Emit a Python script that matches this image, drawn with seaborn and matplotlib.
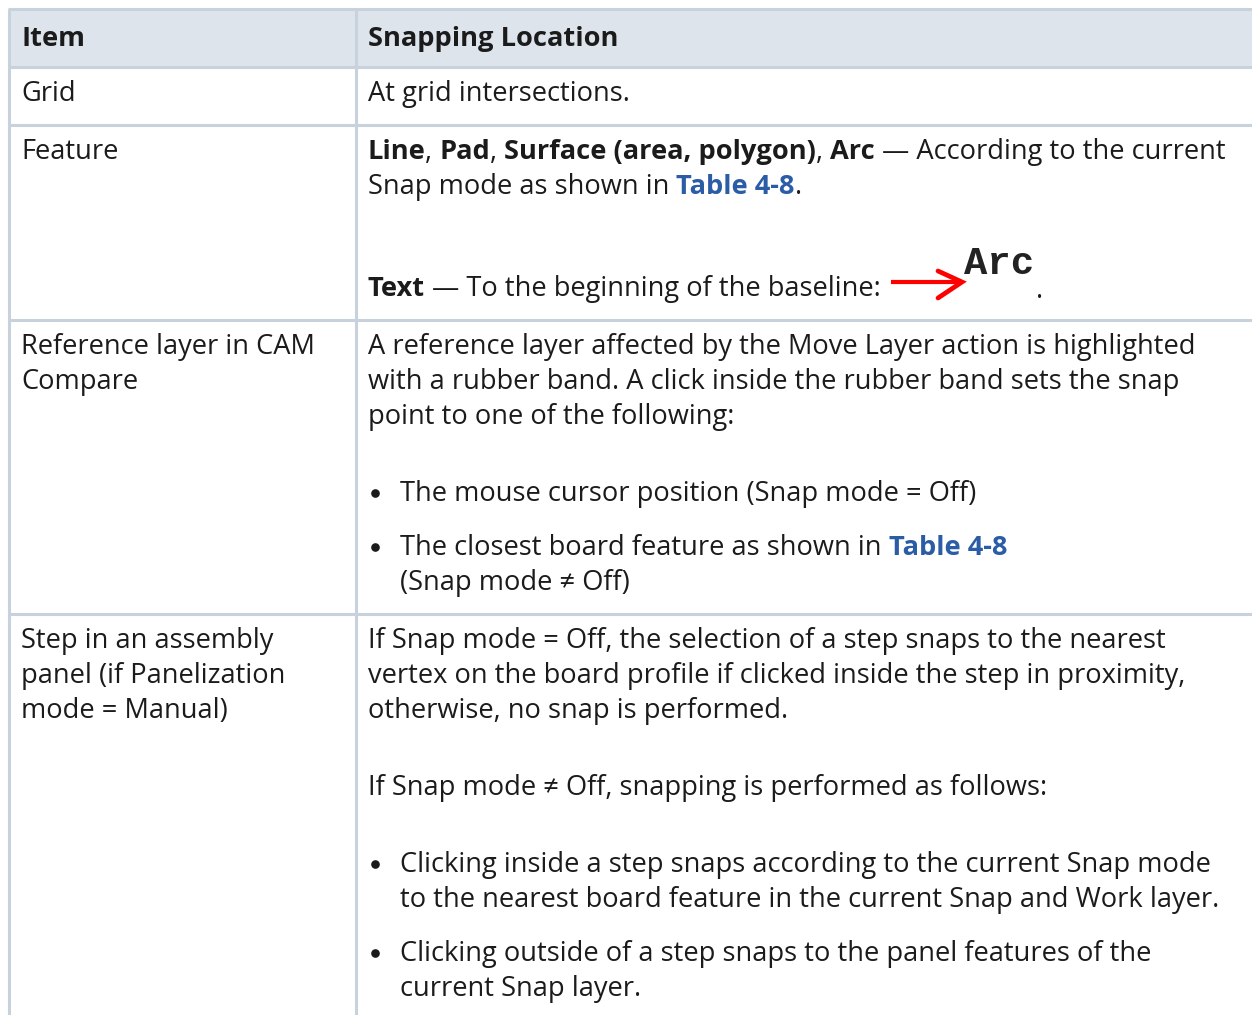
import re
import matplotlib
matplotlib.use("Agg")
import matplotlib.pyplot as plt
from matplotlib.patches import Rectangle
import seaborn as sns

# Table content
header_labels = ["Item", "Snapping Location"]

item_lines = [
    ["Grid"],
    ["Feature"],
    ["Reference layer in CAM", "Compare"],
    ["Step in an assembly", "panel (if Panelization", "mode = Manual)"],
]

# **bold**, [[link]]
location_blocks = [
    [("para", ["At grid intersections."])],
    [("para", ["**Line**, **Pad**, **Surface (area, polygon)**, **Arc** \u2014 According to the current",
               "Snap mode as shown in [[Table 4-8]]."]),
     ("arc", ["**Text** \u2014 To the beginning of the baseline:"])],
    [("para", ["A reference layer affected by the Move Layer action is highlighted",
               "with a rubber band. A click inside the rubber band sets the snap",
               "point to one of the following:"]),
     ("bullet", ["The mouse cursor position (Snap mode = Off)"]),
     ("bullet", ["The closest board feature as shown in [[Table 4-8]]",
                 "(Snap mode \u2260 Off)"])],
    [("para", ["If Snap mode = Off, the selection of a step snaps to the nearest",
               "vertex on the board profile if clicked inside the step in proximity,",
               "otherwise, no snap is performed."]),
     ("para", ["If Snap mode \u2260 Off, snapping is performed as follows:"]),
     ("bullet", ["Clicking inside a step snaps according to the current Snap mode",
                 "to the nearest board feature in the current Snap and Work layer."]),
     ("bullet", ["Clicking outside of a step snaps to the panel features of the",
                 "current Snap layer."])],
]
arc_label = "Arc"

# look
sns.set_theme(style="white")
FONT = ["Open Sans", "DejaVu Sans"]
plt.rcParams["font.family"] = FONT
FS = 19.6
TXT = "#1b1b1b"
LINK = "#2b5ca6"
BORDER = "#c8d2dc"
HEAD_BG = "#dee4ec"

W, H = 1252, 1015
X_LEFT, X_DIV = 9, 356
TOP, HEAD_BOTTOM = 9, 67
LINE, GAP_PARA, GAP_BULLET, GAP_ARC = 35, 77, 54, 102
FIRST, BOTTOM_PAD = 34, 24
PAD_X = 12

fig = plt.figure(figsize=(W / 100, H / 100), dpi=100)
ax = fig.add_axes([0, 0, 1, 1])
ax.set_xlim(0, W)
ax.set_ylim(H, 0)
ax.axis("off")
renderer = fig.canvas.get_renderer()

normal = dict(fontsize=FS, color=TXT, family=FONT)
bold = dict(normal, fontweight="bold")
link = dict(bold, color=LINK)


def text_width(s, kw):
    t = ax.text(0, 0, s, **kw)
    w = t.get_window_extent(renderer).width
    t.remove()
    return w


def advance(s, kw):
    return text_width("x" + s + "x", kw) - text_width("xx", kw)


def draw_line(x, y, line):
    for piece in re.split(r"(\*\*.+?\*\*|\[\[.+?\]\])", line):
        if not piece:
            continue
        if piece.startswith("**"):
            kw, s = bold, piece[2:-2]
        elif piece.startswith("[["):
            kw, s = link, piece[2:-2]
        else:
            kw, s = normal, piece
        lead = len(s) - len(s.lstrip(" "))
        if lead:
            x += advance(" " * lead, kw)
            s = s.lstrip(" ")
        ax.text(x, y, s, va="baseline", ha="left", **kw)
        x += advance(s, kw)
    return x


# header
ax.add_patch(Rectangle((X_LEFT, TOP), W - X_LEFT, HEAD_BOTTOM - TOP, color=HEAD_BG, lw=0))
ax.text(X_LEFT + PAD_X, 46, header_labels[0], va="baseline", **bold)
ax.text(X_DIV + PAD_X, 46, header_labels[1], va="baseline", **bold)

row_lines = [TOP, HEAD_BOTTOM]
top = HEAD_BOTTOM
for items, blocks in zip(item_lines, location_blocks):
    y0 = top + FIRST
    for i, s in enumerate(items):
        draw_line(X_LEFT + PAD_X, y0 + i * LINE, s)
    y = y0
    prev = None
    for kind, lines in blocks:
        if prev is not None:
            if kind == "arc":
                y += GAP_ARC
            elif kind == "bullet" and prev == "bullet":
                y += GAP_BULLET
            else:
                y += GAP_PARA
        tx = X_DIV + PAD_X
        if kind == "bullet":
            ax.plot([tx + 7], [y - 8], "o", ms=5.2, color=TXT)
            tx += 32
        for j, s in enumerate(lines):
            end = draw_line(tx, y + j * LINE, s)
        if kind == "arc":
            ax.plot([end + 10, end + 78], [y - 14, y - 14], color="red", lw=3, solid_capstyle="butt")
            ax.plot([end + 57, end + 81, end + 57], [y - 25, y - 14, y + 2], color="red", lw=3.4,
                    solid_joinstyle="miter")
            ax.text(end + 83, y - 22, arc_label, va="baseline", ha="left", fontsize=28,
                    family="Liberation Mono", fontweight="bold", color="#222222")
            ax.text(end + 155, y + 2, ".", va="baseline", **normal)
        y += (len(lines) - 1) * LINE
        prev = kind
    last = max(y, y0 + (len(items) - 1) * LINE)
    top = last + BOTTOM_PAD
    row_lines.append(top)

for yy in row_lines:
    if yy < H:
        ax.plot([X_LEFT - 1.5, W], [yy, yy], color=BORDER, lw=2.2, solid_capstyle="butt")
for xx in (X_LEFT, X_DIV):
    ax.plot([xx, xx], [TOP, H], color=BORDER, lw=2.2, solid_capstyle="butt")

fig.savefig("out.png", dpi=100)
